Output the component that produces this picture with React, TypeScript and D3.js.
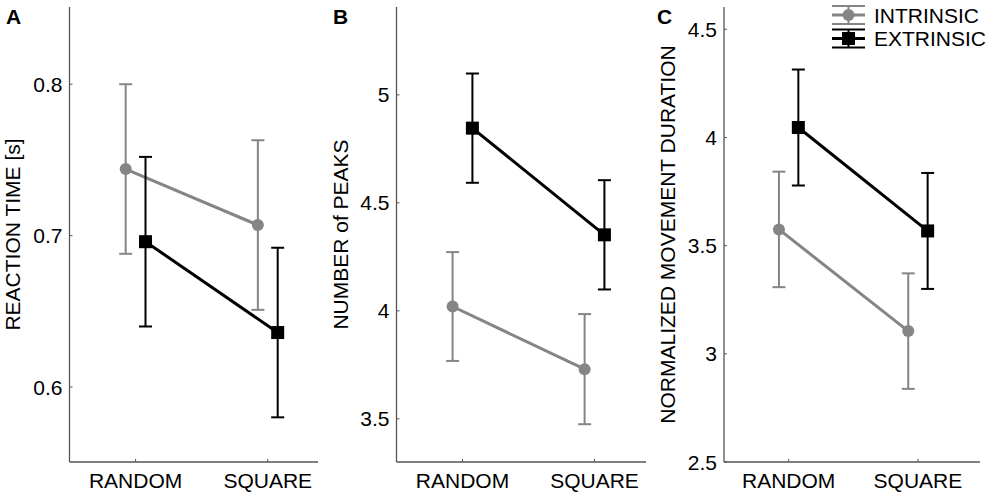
import * as d3 from 'd3';
import React from 'react';

const categories = ['RANDOM', 'SQUARE'];

// panel A: reaction time
const rtIntrinsic = [0.744, 0.707];
const rtIntrinsicErr = [0.056, 0.056];
const rtExtrinsic = [0.696, 0.636];
const rtExtrinsicErr = [0.056, 0.056];
const rtTicks = [0.6, 0.7, 0.8];

// panel B: number of peaks
const peaksIntrinsic = [4.02, 3.73];
const peaksIntrinsicErr = [0.252, 0.255];
const peaksExtrinsic = [4.846, 4.352];
const peaksExtrinsicErr = [0.253, 0.253];
const peaksTicks = [3.5, 4, 4.5, 5];

// panel C: normalized movement duration
const durIntrinsic = [3.575, 3.105];
const durIntrinsicErr = [0.267, 0.267];
const durExtrinsic = [4.046, 3.568];
const durExtrinsicErr = [0.268, 0.268];
const durTicks = [2.5, 3, 3.5, 4, 4.5];

const seriesNames = ['INTRINSIC', 'EXTRINSIC'];

const GRAY = '#858585';
const BLACK = '#000';
const AXIS = '#555';
const FONT = '"Liberation Sans", Arial, sans-serif';

interface PanelProps {
    letter: string;
    yLabel: string;
    left: number;
    right: number;
    xMax: number;
    yDomain: [number, number];
    ticks: number[];
    intrinsic: number[];
    intrinsicErr: number[];
    extrinsic: number[];
    extrinsicErr: number[];
    labelX: number;
    letterX: number;
}

const TOP = 7;
const BOTTOM = 462;
const OFFSET = 0.075;

const Panel: React.FC<PanelProps> = (p) => {
    const x = d3.scaleLinear().domain([0.5, p.xMax]).range([p.left, p.right]);
    const y = d3.scaleLinear().domain(p.yDomain).range([BOTTOM, TOP]);
    const line = d3
        .line<number>()
        .x((_, i) => x(i + 1 + 0))
        .y((d) => y(d));

    const series = [
        { vals: p.intrinsic, err: p.intrinsicErr, color: GRAY, dx: -OFFSET, shape: 'circle' },
        { vals: p.extrinsic, err: p.extrinsicErr, color: BLACK, dx: OFFSET, shape: 'square' },
    ];

    return (
        <g>
            <text x={p.letterX} y={24} fontSize={21} fontWeight="bold" fontFamily={FONT}>
                {p.letter}
            </text>
            {/* axes */}
            <line x1={p.left} x2={p.left} y1={TOP} y2={BOTTOM} stroke={AXIS} strokeWidth={1.3} />
            <line x1={p.left} x2={p.right} y1={BOTTOM} y2={BOTTOM} stroke={AXIS} strokeWidth={1.3} />
            {p.ticks.map((t) => (
                <g key={t}>
                    <line x1={p.left} x2={p.left + 3} y1={y(t)} y2={y(t)} stroke={AXIS} />
                    <text
                        x={p.left - 7}
                        y={y(t)}
                        dy="0.36em"
                        textAnchor="end"
                        fontSize={21}
                        fontFamily={FONT}
                    >
                        {String(t)}
                    </text>
                </g>
            ))}
            {categories.map((c, i) => (
                <g key={c}>
                    <line x1={x(i + 1)} x2={x(i + 1)} y1={BOTTOM} y2={BOTTOM - 3} stroke={AXIS} />
                    <text x={x(i + 1)} y={488} textAnchor="middle" fontSize={21} fontFamily={FONT}>
                        {c}
                    </text>
                </g>
            ))}
            <text
                transform={`translate(${p.labelX},${(TOP + BOTTOM) / 2}) rotate(-90)`}
                textAnchor="middle"
                fontSize={21}
                fontFamily={FONT}
            >
                {p.yLabel}
            </text>
            {/* series */}
            {series.map((s, si) => (
                <g key={si}>
                    {s.vals.map((v, i) => {
                        const cx = x(i + 1 + s.dx);
                        return (
                            <g key={i} stroke={s.color} strokeWidth={2}>
                                <line x1={cx} x2={cx} y1={y(v - s.err[i])} y2={y(v + s.err[i])} />
                                <line x1={cx - 6.5} x2={cx + 6.5} y1={y(v - s.err[i])} y2={y(v - s.err[i])} />
                                <line x1={cx - 6.5} x2={cx + 6.5} y1={y(v + s.err[i])} y2={y(v + s.err[i])} />
                            </g>
                        );
                    })}
                    <path
                        d={
                            d3
                                .line<number>()
                                .x((_, i) => x(i + 1 + s.dx))
                                .y((d) => y(d))(s.vals) || ''
                        }
                        fill="none"
                        stroke={s.color}
                        strokeWidth={3}
                    />
                    {s.vals.map((v, i) =>
                        s.shape === 'circle' ? (
                            <circle key={i} cx={x(i + 1 + s.dx)} cy={y(v)} r={6} fill={s.color} />
                        ) : (
                            <rect
                                key={i}
                                x={x(i + 1 + s.dx) - 6.5}
                                y={y(v) - 6.5}
                                width={13}
                                height={13}
                                fill={s.color}
                            />
                        )
                    )}
                </g>
            ))}
        </g>
    );
};

const Legend: React.FC = () => {
    const x0 = 832;
    const x1 = 865;
    const cx = (x0 + x1) / 2;
    const rows = [
        { name: seriesNames[0], color: GRAY, cy: 15, shape: 'circle' },
        { name: seriesNames[1], color: BLACK, cy: 38.5, shape: 'square' },
    ];
    return (
        <g>
            {rows.map((r) => (
                <g key={r.name}>
                    <line x1={x0} x2={x1} y1={r.cy - 9} y2={r.cy - 9} stroke={r.color} strokeWidth={2} />
                    <line x1={x0} x2={x1} y1={r.cy + 9} y2={r.cy + 9} stroke={r.color} strokeWidth={2} />
                    <line x1={x0} x2={x1} y1={r.cy} y2={r.cy} stroke={r.color} strokeWidth={3} />
                    <line x1={cx} x2={cx} y1={r.cy - 9} y2={r.cy + 9} stroke={r.color} strokeWidth={2} />
                    {r.shape === 'circle' ? (
                        <circle cx={cx} cy={r.cy} r={6} fill={r.color} />
                    ) : (
                        <rect x={cx - 6.5} y={r.cy - 6.5} width={13} height={13} fill={r.color} />
                    )}
                    <text x={874} y={r.cy + 7.5} fontSize={21} fontFamily={FONT}>
                        {r.name}
                    </text>
                </g>
            ))}
        </g>
    );
};

export default function App() {
    return (
        <svg
            width={992}
            height={495}
            style={{ position: 'absolute', left: 0, top: 0, background: '#fff' }}
        >
            <rect width={992} height={495} fill="#fff" />
            <Panel
                letter="A"
                yLabel="REACTION TIME [s]"
                left={69.5}
                right={318}
                xMax={2.38}
                yDomain={[0.5505, 0.851]}
                ticks={rtTicks}
                intrinsic={rtIntrinsic}
                intrinsicErr={rtIntrinsicErr}
                extrinsic={rtExtrinsic}
                extrinsicErr={rtExtrinsicErr}
                labelX={20}
                letterX={6}
            />
            <Panel
                letter="B"
                yLabel="NUMBER of PEAKS"
                left={396.5}
                right={646}
                xMax={2.39}
                yDomain={[3.3, 5.407]}
                ticks={peaksTicks}
                intrinsic={peaksIntrinsic}
                intrinsicErr={peaksIntrinsicErr}
                extrinsic={peaksExtrinsic}
                extrinsicErr={peaksExtrinsicErr}
                labelX={348}
                letterX={333}
            />
            <Panel
                letter="C"
                yLabel="NORMALIZED MOVEMENT DURATION"
                left={724}
                right={980}
                xMax={2.48}
                yDomain={[2.5, 4.603]}
                ticks={durTicks}
                intrinsic={durIntrinsic}
                intrinsicErr={durIntrinsicErr}
                extrinsic={durExtrinsic}
                extrinsicErr={durExtrinsicErr}
                labelX={675}
                letterX={657}
            />
            <Legend />
        </svg>
    );
}
